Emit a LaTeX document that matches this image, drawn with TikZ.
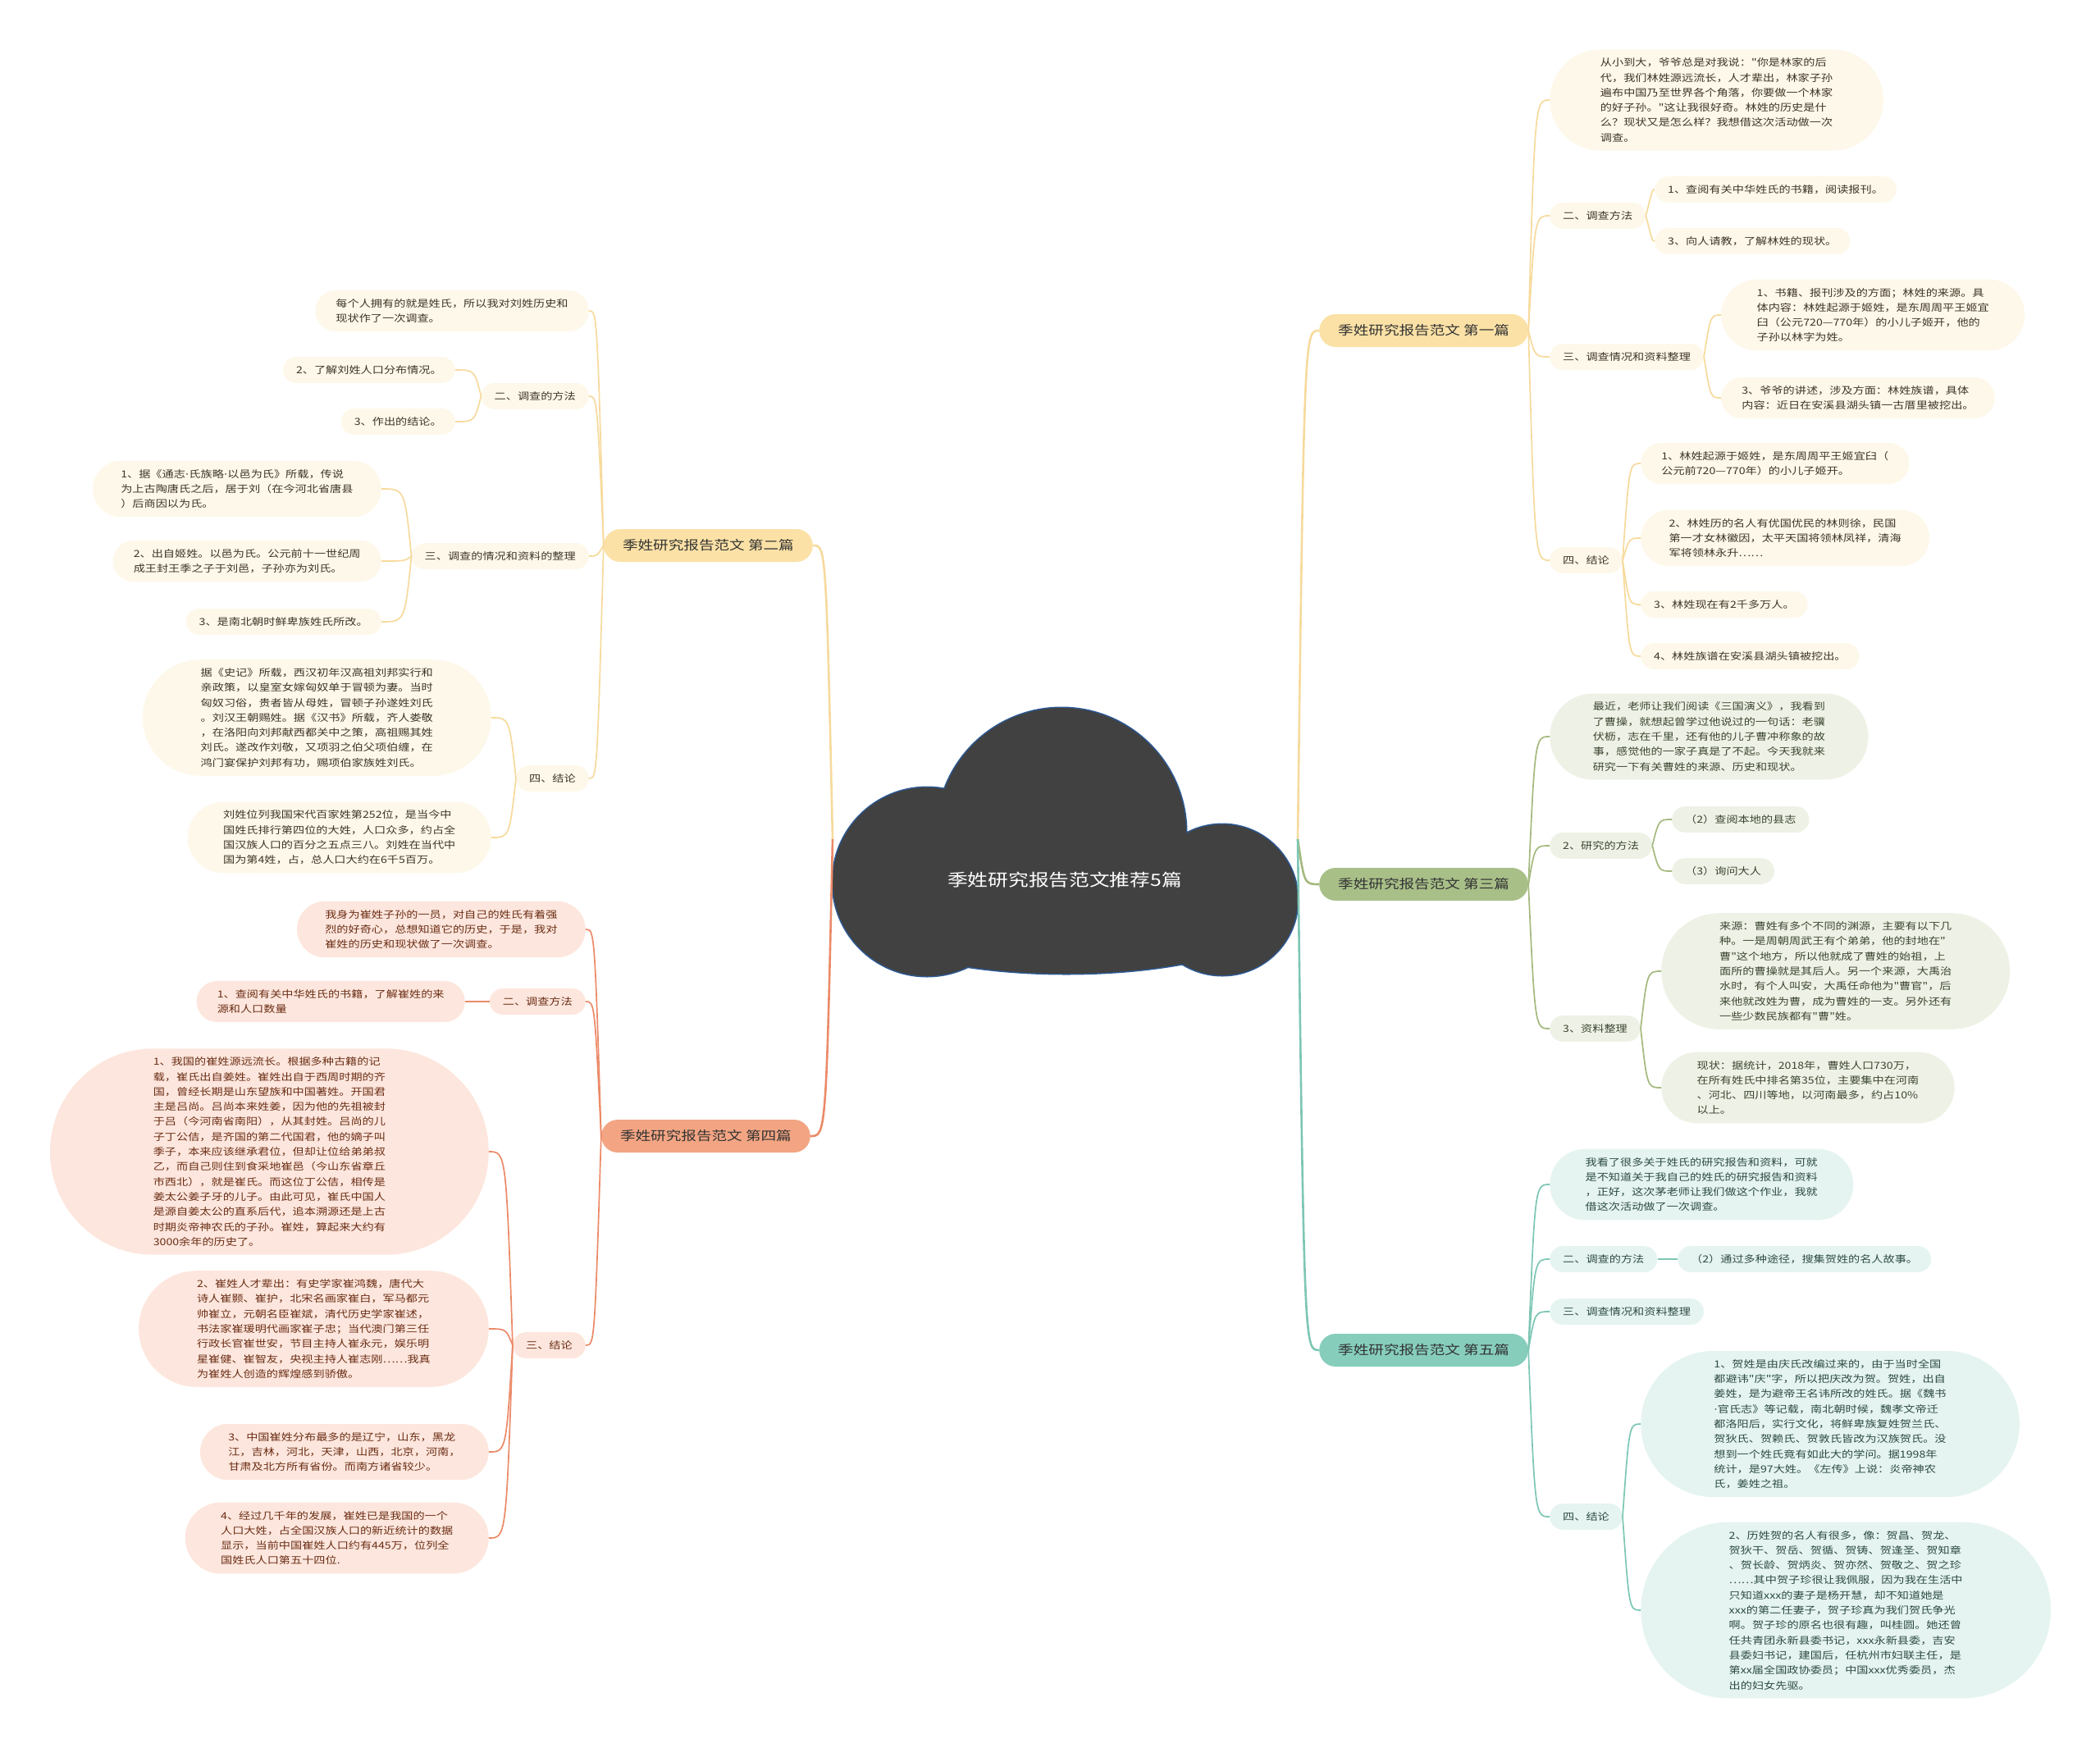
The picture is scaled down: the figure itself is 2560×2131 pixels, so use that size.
\documentclass[tikz,border=0pt]{standalone}
\usepackage{fontspec}
\setmainfont{Noto Sans CJK SC}[FakeStretch=1.2,Ligatures=TeXOff]
\newfontfamily\dotfont{DejaVu Sans}[FakeStretch=1.2]
\usetikzlibrary{calc}

\definecolor{yfill}{HTML}{FBE1A6}
\definecolor{yline}{HTML}{F6DA9C}
\definecolor{ybg}{HTML}{FEF8EA}
\definecolor{ytext}{HTML}{3D3526}
\definecolor{gfill}{HTML}{A8BF88}
\definecolor{gline}{HTML}{A4B97E}
\definecolor{gbg}{HTML}{EEF2E6}
\definecolor{gtext}{HTML}{3B4530}
\definecolor{tfill}{HTML}{86CDBC}
\definecolor{tline}{HTML}{7DC6B4}
\definecolor{tbg}{HTML}{E5F4F0}
\definecolor{ttext}{HTML}{2D4A43}
\definecolor{ofill}{HTML}{F3A583}
\definecolor{oline}{HTML}{EB8A68}
\definecolor{obg}{HTML}{FDE6DD}
\definecolor{otext}{HTML}{6A2D14}
\definecolor{cloudfill}{HTML}{414141}
\definecolor{cloudedge}{HTML}{2C5A96}

\newcommand{\smallcn}{\fontsize{11.8}{18.3}\selectfont}
\newcommand{\midcn}{\fontsize{15.5}{18}\selectfont}
\newcommand{\bigcn}{\fontsize{20.6}{24}\selectfont}
\newcommand{\mdot}{{\dotfont ·}}
\newcommand{\rlink}[3]{\draw[#1] (#2) .. controls ($(#2 |- #3)+(8,0)$) .. (#3);}
\newcommand{\llink}[3]{\draw[#1] (#2) .. controls ($(#2 |- #3)+(-8,0)$) .. (#3);}

\begin{document}
\begin{tikzpicture}[x=1pt,y=-1pt,
    topicbox/.style={minimum height=40pt,rounded corners=20pt,inner xsep=23pt,inner ysep=6pt,font=\midcn,text=black!80},
    leafbox/.style={minimum height={(31.8+18.3*(#1-1))*1pt},rounded corners={(15.9+9.15*(#1-1))*1pt},
      inner xsep={(16+9.15*(#1-1))*1pt},inner ysep=5pt,align=left,font=\smallcn},
    ytop/.style={topicbox,fill=yfill},
    gtop/.style={topicbox,fill=gfill},
    ttop/.style={topicbox,fill=tfill},
    otop/.style={topicbox,fill=ofill},
    ybox/.style={leafbox=#1,fill=ybg,text=ytext},ybox/.default=1,
    gbox/.style={leafbox=#1,fill=gbg,text=gtext},gbox/.default=1,
    tbox/.style={leafbox=#1,fill=tbg,text=ttext},tbox/.default=1,
    obox/.style={leafbox=#1,fill=obg,text=otext},obox/.default=1,
    yarm/.style={draw=yline,line width=2.6pt},
    garm/.style={draw=gline,line width=2.6pt},
    tarm/.style={draw=tline,line width=2.6pt},
    oarm/.style={draw=oline,line width=2.6pt},
    ytw/.style={draw=yline,line width=1.7pt},
    gtw/.style={draw=gline,line width=1.7pt},
    ttw/.style={draw=tline,line width=1.7pt},
    otw/.style={draw=oline,line width=1.7pt}
]
\useasboundingbox (0,0) rectangle (2560,2131);

\path[draw=cloudedge,line width=3pt] (1294,1015) circle[radius=152pt] (1130,1075) circle[radius=115pt]
  (1490,1097) circle[radius=92pt] (1300,1100) ellipse[x radius=280pt,y radius=87pt];
\path[fill=cloudfill] (1294,1015) circle[radius=152pt] (1130,1075) circle[radius=115pt]
  (1490,1097) circle[radius=92pt] (1300,1100) ellipse[x radius=280pt,y radius=87pt];
\node[font=\bigcn,text=white] (root) at (1298,1073) {季姓研究报告范文推荐5篇};
\coordinate (rootL) at (1015,1023);
\coordinate (rootR) at (1582,1023);

\node[ytop,anchor=west] (p1) at (1608,403) {季姓研究报告范文 第一篇};
\node[ybox=6,anchor=west] (p1intro) at (1889,122) {从小到大，爷爷总是对我说："你是林家的后\\代，我们林姓源远流长，人才辈出，林家子孙\\遍布中国乃至世界各个角落，你要做一个林家\\的好子孙。"这让我很好奇。林姓的历史是什\\么？现状又是怎么样？我想借这次活动做一次\\调查。};
\node[ybox,anchor=west] (p1way) at (1889,263) {二、调查方法};
\node[ybox,anchor=west] (p1way1) at (2017,231) {1、查阅有关中华姓氏的书籍，阅读报刊。};
\node[ybox,anchor=west] (p1way3) at (2017,294) {3、向人请教，了解林姓的现状。};
\node[ybox,anchor=west] (p1data) at (1889,435) {三、调查情况和资料整理};
\node[ybox=4,anchor=west] (p1data1) at (2098,384) {1、书籍、报刊涉及的方面；林姓的来源。具\\体内容：林姓起源于姬姓，是东周周平王姬宜\\臼（公元720—770年）的小儿子姬开，他的\\子孙以林字为姓。};
\node[ybox=2,anchor=west] (p1data3) at (2098,485) {3、爷爷的讲述，涉及方面：林姓族谱，具体\\内容：近日在安溪县湖头镇一古厝里被挖出。};
\node[ybox,anchor=west] (p1end) at (1889,683) {四、结论};
\node[ybox=2,anchor=west] (p1end1) at (2000,565) {1、林姓起源于姬姓，是东周周平王姬宜臼（\\公元前720—770年）的小儿子姬开。};
\node[ybox=3,anchor=west] (p1end2) at (2000,656) {2、林姓历的名人有优国优民的林则徐，民国\\第一才女林徽因，太平天国将领林凤祥，清海\\军将领林永升……};
\node[ybox,anchor=west] (p1end3) at (2000,737) {3、林姓现在有2千多万人。};
\node[ybox,anchor=west] (p1end4) at (2000,800) {4、林姓族谱在安溪县湖头镇被挖出。};

\node[gtop,anchor=west] (p3) at (1608,1078) {季姓研究报告范文 第三篇};
\node[gbox=5,anchor=west] (p3intro) at (1889,898) {最近，老师让我们阅读《三国演义》，我看到\\了曹操，就想起曾学过他说过的一句话：老骥\\伏枥，志在千里，还有他的儿子曹冲称象的故\\事，感觉他的一家子真是了不起。今天我就来\\研究一下有关曹姓的来源、历史和现状。};
\node[gbox,anchor=west] (p3way) at (1889,1031) {2、研究的方法};
\node[gbox,anchor=west] (p3way2) at (2038,999) {（2）查阅本地的县志};
\node[gbox,anchor=west] (p3way3) at (2038,1062) {（3）询问大人};
\node[gbox,anchor=west] (p3data) at (1889,1254) {3、资料整理};
\node[gbox=7,anchor=west] (p3data1) at (2025,1184) {来源：曹姓有多个不同的渊源，主要有以下几\\种。一是周朝周武王有个弟弟，他的封地在"\\曹"这个地方，所以他就成了曹姓的始祖，上\\面所的曹操就是其后人。另一个来源，大禹治\\水时，有个人叫安，大禹任命他为"曹官"，后\\来他就改姓为曹，成为曹姓的一支。另外还有\\一些少数民族都有"曹"姓。};
\node[gbox=4,anchor=west] (p3data2) at (2025,1326) {现状：据统计，2018年，曹姓人口730万，\\在所有姓氏中排名第35位，主要集中在河南\\、河北、四川等地，以河南最多，约占10\%\\以上。};

\node[ttop,anchor=west] (p5) at (1608,1646) {季姓研究报告范文 第五篇};
\node[tbox=4,anchor=west] (p5intro) at (1889,1444) {我看了很多关于姓氏的研究报告和资料，可就\\是不知道关于我自己的姓氏的研究报告和资料\\，正好，这次茅老师让我们做这个作业，我就\\借这次活动做了一次调查。};
\node[tbox,anchor=west] (p5way) at (1889,1535) {二、调查的方法};
\node[tbox,anchor=west] (p5way2) at (2045,1535) {（2）通过多种途径，搜集贺姓的名人故事。};
\node[tbox,anchor=west] (p5data) at (1889,1599) {三、调查情况和资料整理};
\node[tbox,anchor=west] (p5end) at (1889,1849) {四、结论};
\node[tbox=9,anchor=west] (p5end1) at (2000,1736) {1、贺姓是由庆氏改编过来的，由于当时全国\\都避讳"庆"字，所以把庆改为贺。贺姓，出自\\姜姓，是为避帝王名讳所改的姓氏。据《魏书\\\mdot 官氏志》等记载，南北朝时候，魏孝文帝迁\\都洛阳后，实行文化，将鲜卑族复姓贺兰氏、\\贺狄氏、贺赖氏、贺敦氏皆改为汉族贺氏。没\\想到一个姓氏竟有如此大的学问。据1998年\\统计，是97大姓。《左传》上说：炎帝神农\\氏，姜姓之祖。};
\node[tbox=11,anchor=west] (p5end2) at (2000,1963) {2、历姓贺的名人有很多，像：贺昌、贺龙、\\贺狄干、贺岳、贺循、贺铸、贺逢圣、贺知章\\、贺长龄、贺炳炎、贺亦然、贺敬之、贺之珍\\……其中贺子珍很让我佩服，因为我在生活中\\只知道xxx的妻子是杨开慧，却不知道她是\\xxx的第二任妻子，贺子珍真为我们贺氏争光\\啊。贺子珍的原名也很有趣，叫桂圆。她还曾\\任共青团永新县委书记，xxx永新县委，吉安\\县委妇书记，建国后，任杭州市妇联主任，是\\第xx届全国政协委员；中国xxx优秀委员，杰\\出的妇女先驱。};

\node[ytop,anchor=east] (p2) at (991,665) {季姓研究报告范文 第二篇};
\node[ybox=2,anchor=east] (p2intro) at (718,379) {每个人拥有的就是姓氏，所以我对刘姓历史和\\现状作了一次调查。};
\node[ybox,anchor=east] (p2way) at (718,483) {二、调查的方法};
\node[ybox,anchor=east] (p2way2) at (555,451) {2、了解刘姓人口分布情况。};
\node[ybox,anchor=east] (p2way3) at (555,514) {3、作出的结论。};
\node[ybox,anchor=east] (p2data) at (718,678) {三、调查的情况和资料的整理};
\node[ybox=3,anchor=east] (p2data1) at (465,596) {1、据《通志\mdot 氏族略\mdot 以邑为氏》所载，传说\\为上古陶唐氏之后，居于刘（在今河北省唐县\\）后商因以为氏。};
\node[ybox=2,anchor=east] (p2data2) at (465,684) {2、出自姬姓。以邑为氏。公元前十一世纪周\\成王封王季之子于刘邑，子孙亦为刘氏。};
\node[ybox,anchor=east] (p2data3) at (465,758) {3、是南北朝时鲜卑族姓氏所改。};
\node[ybox,anchor=east] (p2end) at (718,949) {四、结论};
\node[ybox=7,anchor=east] (p2end1) at (599,875) {据《史记》所载，西汉初年汉高祖刘邦实行和\\亲政策，以皇室女嫁匈奴单于冒顿为妻。当时\\匈奴习俗，贵者皆从母姓，冒顿子孙遂姓刘氏\\。刘汉王朝赐姓。据《汉书》所载，齐人娄敬\\，在洛阳向刘邦献西都关中之策，高祖赐其姓\\刘氏。遂改作刘敬，又项羽之伯父项伯缠，在\\鸿门宴保护刘邦有功，赐项伯家族姓刘氏。};
\node[ybox=4,anchor=east] (p2end2) at (599,1021) {刘姓位列我国宋代百家姓第252位，是当今中\\国姓氏排行第四位的大姓，人口众多，约占全\\国汉族人口的百分之五点三八。刘姓在当代中\\国为第4姓，占，总人口大约在6千5百万。};

\node[otop,anchor=east] (p4) at (988,1385) {季姓研究报告范文 第四篇};
\node[obox=3,anchor=east] (p4intro) at (714,1133) {我身为崔姓子孙的一员，对自己的姓氏有着强\\烈的好奇心，总想知道它的历史，于是，我对\\崔姓的历史和现状做了一次调查。};
\node[obox,anchor=east] (p4way) at (714,1221) {二、调查方法};
\node[obox=2,anchor=east] (p4way1) at (567,1221) {1、查阅有关中华姓氏的书籍，了解崔姓的来\\源和人口数量};
\node[obox,anchor=east] (p4end) at (714,1640) {三、结论};
\node[obox=13,anchor=east] (p4end1) at (596,1404) {1、我国的崔姓源远流长。根据多种古籍的记\\载，崔氏出自姜姓。崔姓出自于西周时期的齐\\国，曾经长期是山东望族和中国著姓。开国君\\主是吕尚。吕尚本来姓姜，因为他的先祖被封\\于吕（今河南省南阳），从其封姓。吕尚的儿\\子丁公佶，是齐国的第二代国君，他的嫡子叫\\季子，本来应该继承君位，但却让位给弟弟叔\\乙，而自己则住到食采地崔邑（今山东省章丘\\市西北），就是崔氏。而这位丁公佶，相传是\\姜太公姜子牙的儿子。由此可见，崔氏中国人\\是源自姜太公的直系后代，追本溯源还是上古\\时期炎帝神农氏的子孙。崔姓，算起来大约有\\3000余年的历史了。};
\node[obox=7,anchor=east] (p4end2) at (596,1620) {2、崔姓人才辈出：有史学家崔鸿魏，唐代大\\诗人崔颢、崔护，北宋名画家崔白，军马都元\\帅崔立，元朝名臣崔斌，清代历史学家崔述，\\书法家崔瑗明代画家崔子忠；当代澳门第三任\\行政长官崔世安，节目主持人崔永元，娱乐明\\星崔健、崔智友，央视主持人崔志刚……我真\\为崔姓人创造的辉煌感到骄傲。};
\node[obox=3,anchor=east] (p4end3) at (596,1770) {3、中国崔姓分布最多的是辽宁，山东，黑龙\\江，吉林，河北，天津，山西，北京，河南，\\甘肃及北方所有省份。而南方诸省较少。};
\node[obox=4,anchor=east] (p4end4) at (596,1875) {4、经过几千年的发展，崔姓已是我国的一个\\人口大姓，占全国汉族人口的新近统计的数据\\显示，当前中国崔姓人口约有445万，位列全\\国姓氏人口第五十四位.};

\rlink{yarm}{rootR}{p1.west}
\rlink{garm}{rootR}{p3.west}
\rlink{tarm}{rootR}{p5.west}
\llink{yarm}{rootL}{p2.east}
\llink{oarm}{rootL}{p4.east}

\rlink{ytw}{p1.east}{p1intro.west}
\rlink{ytw}{p1.east}{p1way.west}
\rlink{ytw}{p1.east}{p1data.west}
\rlink{ytw}{p1.east}{p1end.west}
\rlink{ytw}{p1way.east}{p1way1.west}
\rlink{ytw}{p1way.east}{p1way3.west}
\rlink{ytw}{p1data.east}{p1data1.west}
\rlink{ytw}{p1data.east}{p1data3.west}
\rlink{ytw}{p1end.east}{p1end1.west}
\rlink{ytw}{p1end.east}{p1end2.west}
\rlink{ytw}{p1end.east}{p1end3.west}
\rlink{ytw}{p1end.east}{p1end4.west}

\rlink{gtw}{p3.east}{p3intro.west}
\rlink{gtw}{p3.east}{p3way.west}
\rlink{gtw}{p3.east}{p3data.west}
\rlink{gtw}{p3way.east}{p3way2.west}
\rlink{gtw}{p3way.east}{p3way3.west}
\rlink{gtw}{p3data.east}{p3data1.west}
\rlink{gtw}{p3data.east}{p3data2.west}

\rlink{ttw}{p5.east}{p5intro.west}
\rlink{ttw}{p5.east}{p5way.west}
\rlink{ttw}{p5.east}{p5data.west}
\rlink{ttw}{p5.east}{p5end.west}
\rlink{ttw}{p5way.east}{p5way2.west}
\rlink{ttw}{p5end.east}{p5end1.west}
\rlink{ttw}{p5end.east}{p5end2.west}

\llink{ytw}{p2.west}{p2intro.east}
\llink{ytw}{p2.west}{p2way.east}
\llink{ytw}{p2.west}{p2data.east}
\llink{ytw}{p2.west}{p2end.east}
\llink{ytw}{p2way.west}{p2way2.east}
\llink{ytw}{p2way.west}{p2way3.east}
\llink{ytw}{p2data.west}{p2data1.east}
\llink{ytw}{p2data.west}{p2data2.east}
\llink{ytw}{p2data.west}{p2data3.east}
\llink{ytw}{p2end.west}{p2end1.east}
\llink{ytw}{p2end.west}{p2end2.east}

\llink{otw}{p4.west}{p4intro.east}
\llink{otw}{p4.west}{p4way.east}
\llink{otw}{p4.west}{p4end.east}
\llink{otw}{p4way.west}{p4way1.east}
\llink{otw}{p4end.west}{p4end1.east}
\llink{otw}{p4end.west}{p4end2.east}
\llink{otw}{p4end.west}{p4end3.east}
\llink{otw}{p4end.west}{p4end4.east}
\end{tikzpicture}
\end{document}
